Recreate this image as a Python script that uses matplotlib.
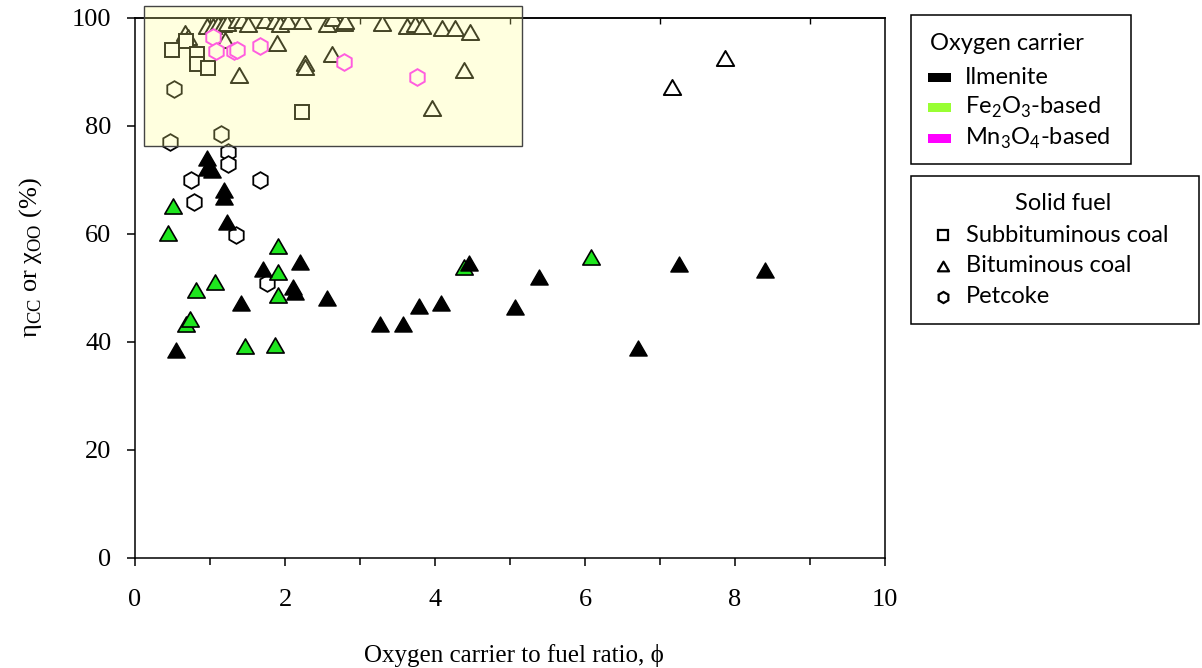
import matplotlib
matplotlib.use("Agg")
import matplotlib.pyplot as plt
from matplotlib.patches import Rectangle
from matplotlib.path import Path
from matplotlib.lines import Line2D

# Filled markers: eta_CC / chi_OO by oxygen carrier
ilm_x = [0.55, 0.96, 0.96, 1.02, 1.18, 1.18, 1.22, 1.41, 1.71, 2.11, 2.13, 2.20,
         2.56, 3.26, 3.57, 3.78, 4.08, 4.45, 5.07, 5.39, 6.71, 7.25, 8.40]
ilm_y = [38.5, 74.0, 72.2, 71.9, 68.1, 66.9, 62.3, 47.2, 53.6, 50.2, 49.3, 54.9,
         48.1, 43.3, 43.3, 46.7, 47.3, 54.6, 46.4, 52.0, 38.8, 54.4, 53.3]

fe_x = [0.44, 0.51, 0.68, 0.73, 0.81, 1.07, 1.46, 1.87, 1.90, 1.91, 1.91, 4.38, 6.08]
fe_y = [60.1, 65.1, 43.3, 44.2, 49.6, 51.2, 39.3, 39.4, 53.0, 57.8, 48.7, 53.9, 55.7]

# Open markers by solid fuel
bit_x = [0.66, 0.70, 0.96, 1.04, 1.11, 1.17, 1.23, 1.36, 1.42, 1.51, 1.73, 1.87,
         1.93, 2.04, 2.22, 2.56, 2.64, 2.78, 2.80, 3.29, 3.62, 3.73, 3.82, 4.09,
         4.27, 4.47, 1.20, 1.89, 2.62, 2.27, 2.27, 1.38, 3.96, 4.39, 7.16, 7.87]
bit_y = [97.2, 96.5, 98.5, 98.5, 98.8, 98.8, 99.1, 99.6, 99.6, 98.8, 99.6, 99.4,
         98.8, 99.4, 99.4, 98.8, 100.0, 99.1, 99.4, 99.1, 98.5, 98.8, 98.5, 98.2,
         98.2, 97.5, 95.9, 95.3, 93.3, 91.6, 91.0, 89.4, 83.3, 90.4, 87.3, 92.5]

sub_x = [0.49, 0.68, 0.83, 0.82, 0.97, 2.22]
sub_y = [94.1, 95.8, 93.4, 91.4, 90.7, 82.6]

pet_x = [0.52, 1.15, 0.47, 1.24, 1.24, 0.75, 1.67, 0.79, 1.34, 1.76]
pet_y = [86.9, 78.6, 77.1, 75.1, 73.0, 70.0, 70.0, 66.0, 59.9, 50.9]

mn_x = [1.04, 1.08, 1.32, 1.36, 1.67, 2.78, 3.76]
mn_y = [96.5, 93.8, 93.9, 94.1, 94.9, 91.9, 89.0]

x_ticks = [0, 2, 4, 6, 8, 10]
y_ticks = [0, 20, 40, 60, 80, 100]

carrier_labels = ["Ilmenite",
                  r"Fe$_\mathregular{2}$O$_\mathregular{3}$-based",
                  r"Mn$_\mathregular{3}$O$_\mathregular{4}$-based"]
carrier_colors = ["#000000", "#99FF33", "#FF00FF"]
fuel_labels = ["Subbituminous coal", "Bituminous coal", "Petcoke"]

GREEN = "#1EE61E"
W, H = 1202, 668
SERIF = ["Liberation Serif", "DejaVu Serif"]
SANS = ["Lato", "DejaVu Sans"]
LEG_FS = 17
TRI_MS = 12.5

tri = Path([(-1, -0.866), (1, -0.866), (0, 0.866), (-1, -0.866)],
           [Path.MOVETO, Path.LINETO, Path.LINETO, Path.CLOSEPOLY])

fig = plt.figure(figsize=(W / 100, H / 100), dpi=100)
ax = fig.add_axes([135 / W, 1 - 558 / H, 750 / W, 540 / H])


def fx(px):
    return px / W


def fy(py):
    return 1 - py / H


ax.plot(bit_x, bit_y, ls="none", marker=tri, ms=TRI_MS, mfc="white", mec="black", mew=1.4, zorder=3)
ax.plot(sub_x, sub_y, ls="none", marker="s", ms=10, mfc="white", mec="black", mew=1.4, zorder=3)
ax.plot(pet_x, pet_y, ls="none", marker="h", ms=12, mfc="white", mec="black", mew=1.3, zorder=3)
ax.plot(mn_x, mn_y, ls="none", marker="h", ms=12, mfc="white", mec="#FF22FF", mew=1.4, zorder=3)
ax.plot(fe_x, fe_y, ls="none", marker=tri, ms=TRI_MS, mfc=GREEN, mec="black", mew=1.2, zorder=4)
ax.plot(ilm_x, ilm_y, ls="none", marker=tri, ms=TRI_MS, mfc="black", mec="black", mew=1.0, zorder=4)

# Translucent highlight over the high-conversion region
ax.add_patch(Rectangle((0.12, 76.3), 5.04, 25.9, facecolor=(1.0, 1.0, 0.55), alpha=0.27,
                       edgecolor="none", clip_on=False, zorder=6))
ax.add_patch(Rectangle((0.12, 76.3), 5.04, 25.9, facecolor="none", edgecolor="#444444",
                       lw=1.0, clip_on=False, zorder=6))

ax.set_xlim(0, 10)
ax.set_ylim(0, 100)
ax.set_xticks(x_ticks)
ax.set_yticks(y_ticks)
ax.set_xticks([1, 3, 5, 7, 9], minor=True)
ax.tick_params(axis="both", which="major", direction="out", length=6, width=1.1,
               labelsize=19)
ax.tick_params(axis="x", which="major", pad=16)
ax.tick_params(axis="y", which="major", pad=11)
ax.tick_params(axis="x", which="minor", direction="out", length=5, width=1.1)
for lab in ax.get_xticklabels() + ax.get_yticklabels():
    lab.set_family(SERIF)
for s in ax.spines.values():
    s.set_linewidth(1.1)

top = ax.secondary_xaxis("top")
top.set_xticks([1, 3, 5, 7, 9])
top.tick_params(direction="in", length=4, width=1.0, labeltop=False)
top.spines["top"].set_linewidth(1.1)

ax.set_ylabel("η$_\\mathregular{CC}$ or χ$_\\mathregular{OO}$ (%)", family=SERIF, fontsize=19,
              va="center")
ax.yaxis.set_label_coords(-0.139, 0.556)
ax.set_xlabel("Oxygen carrier to fuel ratio, \u03d5", family=SERIF, fontsize=18, va="center")
ax.xaxis.set_label_coords(0.505, -0.18)

# Legend boxes drawn in figure pixel space
fig.patches.append(Rectangle((fx(911), fy(164)), (1131 - 911) / W, (164 - 15) / H,
                             transform=fig.transFigure, facecolor="white",
                             edgecolor="black", lw=1.1))
fig.text(fx(930), fy(44), "Oxygen carrier", family=SANS, fontsize=LEG_FS, va="center", ha="left")
for i, (lab, col) in enumerate(zip(carrier_labels, carrier_colors)):
    yc = 77 + i * 30.5
    fig.patches.append(Rectangle((fx(928), fy(yc + 4.5)), 23 / W, 9 / H,
                                 transform=fig.transFigure, facecolor=col, edgecolor="none"))
    fig.text(fx(965), fy(yc), lab, family=SANS, fontsize=LEG_FS, va="center", ha="left")

fig.patches.append(Rectangle((fx(911), fy(324)), (1199 - 911) / W, (324 - 176) / H,
                             transform=fig.transFigure, facecolor="white",
                             edgecolor="black", lw=1.1))
fig.text(fx(1063), fy(203), "Solid fuel", family=SANS, fontsize=LEG_FS, va="center", ha="center")
for i, (lab, mk) in enumerate(zip(fuel_labels, ["s", tri, "h"])):
    yc = 235 + i * 31
    fig.lines.append(Line2D([fx(943)], [fy(yc)], transform=fig.transFigure, ls="none",
                            marker=mk, ms=8 if mk != "s" else 7.5, mfc="white",
                            mec="black", mew=1.6))
    fig.text(fx(966), fy(yc), lab, family=SANS, fontsize=LEG_FS, va="center", ha="left")

fig.savefig("out.png", dpi=100)
